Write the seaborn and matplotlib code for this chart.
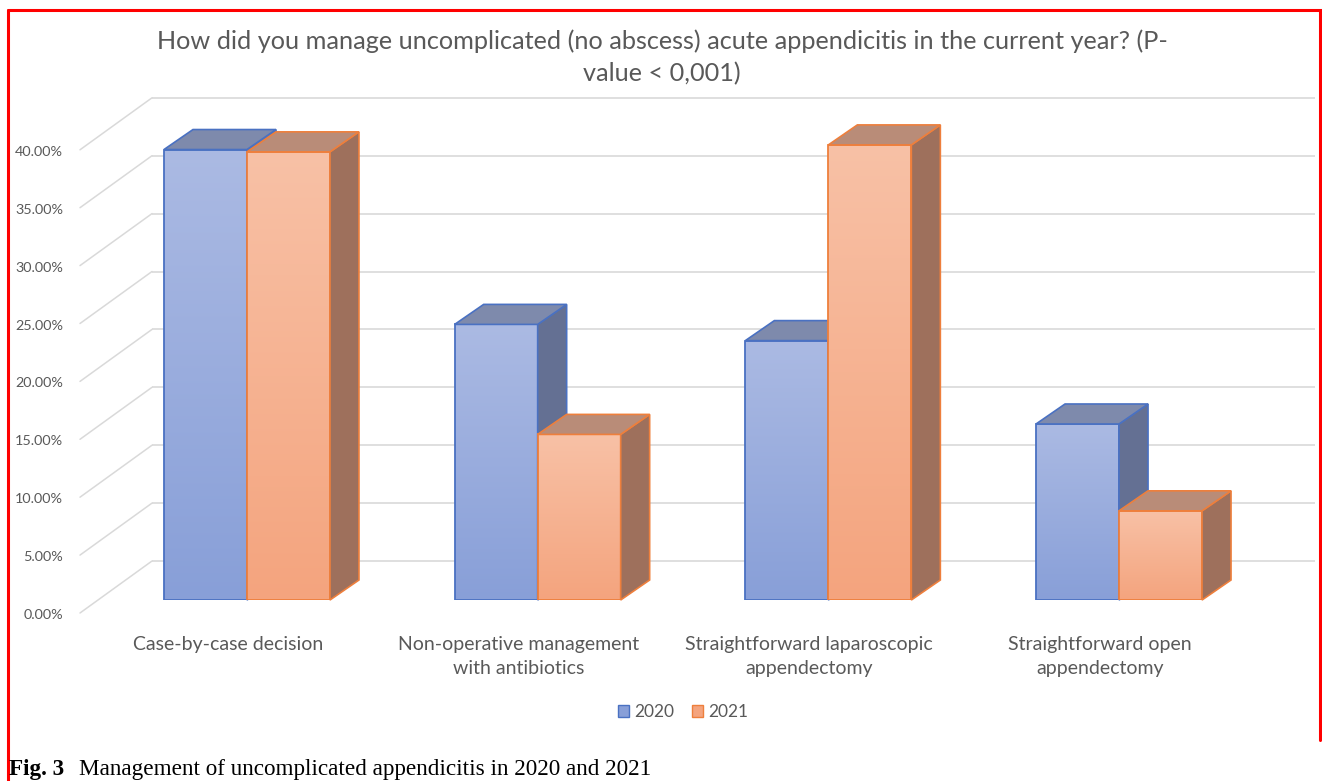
import numpy as np
import pandas as pd
import matplotlib
matplotlib.use("Agg")
import matplotlib.pyplot as plt
from matplotlib.colors import LinearSegmentedColormap
from matplotlib.patches import Polygon, Patch
from matplotlib.lines import Line2D
import seaborn as sns

# data (percent of respondents)
categories = [
    "Case-by-case decision",
    "Non-operative management\nwith antibiotics",
    "Straightforward laparoscopic\nappendectomy",
    "Straightforward open\nappendectomy",
]
years = ["2020", "2021"]
share_2020 = [38.9, 23.8, 22.4, 15.2]
share_2021 = [38.7, 14.3, 39.3, 7.7]
y_ticks = [0, 5, 10, 15, 20, 25, 30, 35, 40]

title = ("How did you manage uncomplicated (no abscess) acute appendicitis in the current year? (P-\n"
         "value < 0,001)")
caption_bold = "Fig. 3"
caption_text = "Management of uncomplicated appendicitis in 2020 and 2021"

df = pd.DataFrame({
    "category": categories * 2,
    "year": [years[0]] * len(categories) + [years[1]] * len(categories),
    "share": share_2020 + share_2021,
})

# colours (front gradient bottom/top, edge, side, top face)
styles = {
    "2020": dict(bottom="#889fd8", top="#abbae3", edge="#4a71c2", side="#647093", cap="#7e8aac"),
    "2021": dict(bottom="#f4a47e", top="#f8c1a6", edge="#ee7f3c", side="#9e705c", cap="#b98c78"),
}
TEXT = "#595959"
GRID = "#d9d9d9"

sns.set_style("white")
plt.rcParams["font.family"] = ["Lato", "DejaVu Sans"]

W, H = 1322, 781
fig = plt.figure(figsize=(W / 100, H / 100), dpi=100)
fig.patch.set_facecolor("white")
ax = fig.add_axes([87.1 / W, 181 / H, 1229.6 / W, 521.1 / H])

sns.barplot(data=df, x="category", y="share", hue="year", order=categories,
            hue_order=years, palette=[styles[y]["bottom"] for y in years],
            width=0.571, gap=0, saturation=1, legend=False, ax=ax)

ax.set_xlim(-0.55, 3.68)
ax.set_ylim(0, 45)
ax.set_axis_off()

# pixel -> data helpers
x0_px, y0_px = ax.transData.transform((0, 0))
x1_px, y1_px = ax.transData.transform((1, 1))
ux = x1_px - x0_px          # px per category unit
uy = y1_px - y0_px          # px per percent


def px_x(px):
    """figure pixel column (from left) -> data x"""
    return (px - x0_px) / ux


# back wall gridlines and the slanted side lines
wall_dy = 39 / uy
label_dy = 13 / uy
for v in y_ticks:
    ax.plot([px_x(152), px_x(1315)], [v + wall_dy, v + wall_dy], color=GRID,
            lw=1.2, zorder=0.5, clip_on=False, solid_capstyle="butt")
    ax.plot([px_x(80), px_x(152)], [v - label_dy, v + wall_dy], color=GRID,
            lw=1.1, zorder=0.5, clip_on=False)
    ax.text(px_x(63), v - 15 / uy, f"{v:.2f}%", ha="right", va="center",
            fontsize=10.4, color=TEXT, clip_on=False)

# 3D look: gradient fronts, plus top and side faces
dx = 29 / ux
dy = 20 / uy
for k, (year, container) in enumerate(zip(years, ax.containers)):
    st = styles[year]
    cmap = LinearSegmentedColormap.from_list(year, [st["bottom"], st["top"]])
    grad = np.linspace(0, 1, 256).reshape(-1, 1)
    base = 2 + 0.1 * k
    for bar in container:
        bx, _ = bar.get_xy()
        bw, bh = bar.get_width(), bar.get_height()
        ax.imshow(grad, extent=[bx, bx + bw, 0, bh], origin="lower", cmap=cmap,
                  aspect="auto", zorder=base, interpolation="bicubic")
        bar.set_facecolor("none")
        bar.set_edgecolor(st["edge"])
        bar.set_linewidth(1.3)
        bar.set_zorder(base + 0.01)
        side = Polygon([(bx + bw, 0), (bx + bw, bh), (bx + bw + dx, bh + dy), (bx + bw + dx, dy)],
                       closed=True, facecolor=st["side"], edgecolor=st["edge"], lw=1.2,
                       zorder=base + 0.02, clip_on=False)
        cap = Polygon([(bx, bh), (bx + dx, bh + dy), (bx + bw + dx, bh + dy), (bx + bw, bh)],
                      closed=True, facecolor=st["cap"], edgecolor=st["edge"], lw=1.2,
                      zorder=base + 0.03, clip_on=False)
        ax.add_patch(side)
        ax.add_patch(cap)

ax.set_xlim(-0.55, 3.68)
ax.set_ylim(0, 45)

# category labels sit on the front floor edge
for i, name in enumerate(categories):
    ax.text(i - 19 / ux, -36 / uy, name, ha="center", va="top", fontsize=14,
            color=TEXT, linespacing=1.5, clip_on=False)

handles = [Patch(facecolor=styles[y]["bottom"], edgecolor=styles[y]["edge"], lw=1) for y in years]
fig.legend(handles, years, loc="center", bbox_to_anchor=(683 / W, 1 - 712 / H), ncol=2,
           frameon=False, fontsize=12.5, handlelength=0.65, handleheight=0.65,
           handletextpad=0.3, columnspacing=1.0, labelcolor=TEXT)

fig.text(662 / W, 1 - 29 / H, title, ha="center", va="top", fontsize=18.2,
         color=TEXT, linespacing=1.5)

# caption below the chart
serif = ["Liberation Serif", "DejaVu Serif"]
fig.text(9 / W, 1 - 769 / H, caption_bold, ha="left", va="center", fontsize=16.7,
         fontweight="bold", family=serif, color="black")
fig.text(79 / W, 1 - 769 / H, caption_text, ha="left", va="center", fontsize=16.7,
         family=serif, color="black")

# red frame
fig.add_artist(Line2D([8 / W, 8 / W], [0, 1 - 10 / H], color="red", lw=2.2,
                      transform=fig.transFigure))
fig.add_artist(Line2D([8 / W, 1], [1 - 10 / H, 1 - 10 / H], color="red", lw=2.2,
                      transform=fig.transFigure))
fig.add_artist(Line2D([1320 / W, 1320 / W], [1 - 740 / H, 1 - 10 / H], color="red", lw=2.2,
                      transform=fig.transFigure))

fig.savefig("out.png", dpi=100)
